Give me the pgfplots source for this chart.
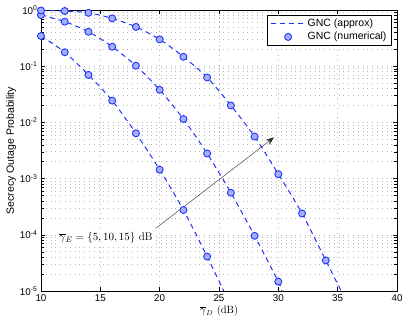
\documentclass[border=0pt]{standalone}
\usepackage{pgfplots}
\pgfplotsset{compat=1.18}
\usetikzlibrary{arrows.meta}
\usepackage{fontspec}
\setsansfont{Liberation Sans}
\definecolor{lineblue}{RGB}{30,50,255}
\definecolor{markfill}{RGB}{165,175,245}
\pgfplotsset{
    approx/.style={lineblue, line width=1pt, dash pattern=on 5pt off 4pt, smooth,
        legend image code/.code={\draw[##1] (0cm,0cm) -- (1.2cm,0cm);}},
    numer/.style={only marks, mark=*, mark size=3.5pt,
        mark options={draw=lineblue, fill=markfill, line width=0.9pt},
        legend image code/.code={\draw[##1] plot coordinates {(0.6cm,0cm)};}},
}
\begin{document}
\begin{tikzpicture}
\begin{axis}[
    scale only axis, width=356pt, height=281pt,
    ymode=log, xmin=10, xmax=40, ymin=1e-5, ymax=1,
    xtick={10,15,...,40},
    ytick={1e-5,1e-4,1e-3,1e-2,1e-1,1},
    yticklabels={10\textsuperscript{-5},10\textsuperscript{-4},10\textsuperscript{-3},10\textsuperscript{-2},10\textsuperscript{-1},10\textsuperscript{0}},
    tick align=inside, tick style={black, thin},
    xmajorgrids, ymajorgrids, yminorgrids,
    major grid style={gray!55, line width=0.6pt, dash pattern=on 0.8pt off 4pt},
    minor grid style={gray!55, line width=0.6pt, dash pattern=on 0.8pt off 4pt},
    tick label style={font=\fontsize{9.8}{11}\sffamily},
    /pgf/number format/assume math mode=true,
    xlabel={$\overline{\gamma}_D$ (dB)},
    ylabel={\sffamily Secrecy Outage Probability},
    xlabel style={font=\fontsize{10.5}{12}\selectfont, yshift=3pt},
    ylabel style={font=\fontsize{10.5}{12}\selectfont, yshift=-3pt},
    legend style={at={(0.985,0.982)}, anchor=north east, font=\fontsize{10.5}{12}\sffamily,
        draw=black, row sep=0pt, inner sep=2pt, inner xsep=3pt},
    legend cell align=left,
]
% gamma_E = 5 dB
\addplot[approx] coordinates {
    (10,0.345) (12,0.177) (14,0.070) (16,0.0244) (18,0.0064) (20,0.00144) (22,2.76e-4) (24,4.1e-5) (25.4,1e-5)};
\addlegendentry{GNC (approx)}
\addplot[numer] coordinates {
    (10,0.345) (12,0.177) (14,0.070) (16,0.0244) (18,0.0064) (20,0.00144) (22,2.76e-4) (24,4.1e-5)};
\addlegendentry{GNC (numerical)}
% gamma_E = 10 dB
\addplot[approx, forget plot] coordinates {
    (10,0.815) (12,0.62) (14,0.41) (16,0.222) (18,0.102) (20,0.038) (22,0.0115) (24,0.0028) (26,5.6e-4) (28,9.6e-5) (30,1.47e-5) (30.3,1e-5)};
\addplot[numer, forget plot] coordinates {
    (10,0.815) (12,0.62) (14,0.41) (16,0.222) (18,0.102) (20,0.038) (22,0.0115) (24,0.0028) (26,5.6e-4) (28,9.6e-5) (30,1.47e-5)};
% gamma_E = 15 dB
\addplot[approx, forget plot] coordinates {
    (10,0.98) (12,0.96) (14,0.89) (16,0.71) (18,0.50) (20,0.30) (22,0.147) (24,0.063) (26,0.020) (28,0.0056) (30,0.0012) (32,2.4e-4) (34,3.5e-5) (35.3,1e-5)};
\addplot[numer, forget plot] coordinates {
    (10,0.98) (12,0.96) (14,0.89) (16,0.71) (18,0.50) (20,0.30) (22,0.147) (24,0.063) (26,0.020) (28,0.0056) (30,0.0012) (32,2.4e-4) (34,3.5e-5)};
\draw[-{Stealth[length=8pt,width=6pt]}, thin, black!85] (axis cs:19.66,1.3e-4) -- (axis cs:29.63,5.4e-3);
\node[anchor=east, font=\fontsize{11}{12}\selectfont, fill=white, inner sep=1pt] at (axis cs:19.5,9e-5) {$\overline{\gamma}_E = \{5,10,15\}$ dB};
\end{axis}
\path (-41pt,-34pt) rectangle (374pt,291pt);
\end{tikzpicture}
\end{document}
